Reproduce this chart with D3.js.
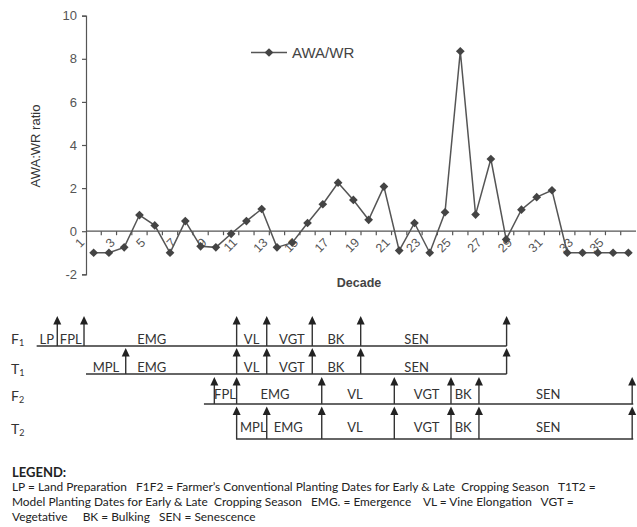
<!DOCTYPE html>
<html>
<head>
<meta charset="utf-8">
<script src="https://cdn.jsdelivr.net/npm/d3@7"></script>
<style>
  body { margin: 0; background: #fff; }
  svg { display: block; }
</style>
</head>
<body>
<div id="chart"></div>
<script>
// AWA/WR ratio per decade
const decades = d3.range(1, 37)
const ratio = [
  -1, -1, -0.75, 0.75, 0.27, -1, 0.47, -0.7, -0.75, -0.12,
  0.47, 1.03, -0.75, -0.53, 0.38, 1.25, 2.25, 1.45, 0.53, 2.07,
  -0.9, 0.38, -1, 0.88, 8.35, 0.77, 3.35, -0.38, 1.0, 1.58,
  1.9, -1, -1, -1, -1, -1
]
const yTicks = [-2, 0, 2, 4, 6, 8, 10]
const xLabels = d3.range(1, 36, 2)

// crop stage timeline (in decade units along the same axis)
const rowNames = [["F", "1"], ["T", "1"], ["F", "2"], ["T", "2"]]
const rowStart = [-3.23, 0, 7.72, 9.82]
const rowEnd = [27.53, 27.53, 35.82, 35.82]
const rowArrows = [
  [-1.88, -0.13, 9.86, 11.83, 14.81, 17.98, 27.53],
  [2.6, 9.86, 11.83, 14.81, 17.98, 27.53],
  [8.4, 9.86, 15.43, 20.18, 23.89, 25.72, 35.75],
  [9.86, 11.83, 15.43, 20.18, 23.89, 25.72, 35.75]
]
const rowStages = [
  ["LP", "FPL", "EMG", "VL", "VGT", "BK", "SEN"],
  ["MPL", "EMG", "VL", "VGT", "BK", "SEN"],
  ["FPL", "EMG", "VL", "VGT", "BK", "SEN"],
  ["MPL", "EMG", "VL", "VGT", "BK", "SEN"]
]
const rowStageAt = [
  [-2.57, -1.0, 4.3, 10.84, 13.48, 16.36, 21.64],
  [1.31, 4.3, 10.84, 13.48, 16.36, 21.64],
  [9.1, 12.37, 17.6, 22.3, 24.69, 30.25],
  [10.95, 13.24, 17.6, 22.3, 24.69, 30.25]
]

const legendLines = [
  "LP = Land Preparation   F1F2 = Farmer\u2019s Conventional Planting Dates for Early & Late  Cropping Season   T1T2 =",
  "Model Planting Dates for Early & Late  Cropping Season   EMG. = Emergence    VL = Vine Elongation   VGT =",
  "Vegetative     BK = Bulking   SEN = Senescence"
]

const width = 637
const height = 527
const plot = { left: 86, right: 636, top: 15.7, bottom: 274.3 }

const svg = d3.select("#chart")
  .append("svg")
    .attr("width", width)
    .attr("height", height)

const x = d3.scaleBand()
  .domain(decades)
  .range([plot.left, plot.right])
const bw = x.bandwidth()
const xc = d => x(d) + bw / 2

const y = d3.scaleLinear()
  .domain([-2, 10])
  .range([plot.bottom, plot.top])

const axisColor = "#555"
const font = "'Liberation Sans', Arial, sans-serif"

// y axis
const yAxis = svg.append("g")
  .attr("transform", `translate(${plot.left},0)`)
  .call(d3.axisLeft(y).tickValues(yTicks).tickSize(4).tickPadding(5).tickFormat(d => String(d)))
yAxis.select(".domain").attr("stroke", axisColor).attr("stroke-width", 1.2)
yAxis.selectAll(".tick line").attr("stroke", axisColor).attr("stroke-width", 1.2)
yAxis.selectAll(".tick text")
  .attr("fill", "#555")
  .style("font", `13px ${font}`)

// x axis at zero
const xAxis = svg.append("g")
  .attr("transform", `translate(0,${y(0)})`)
xAxis.append("line")
  .attr("x1", plot.left).attr("x2", plot.right)
  .attr("stroke", axisColor).attr("stroke-width", 1.2)
xAxis.selectAll(".tk")
  .data(decades.slice(1))
  .join("line")
    .attr("x1", d => x(d)).attr("x2", d => x(d))
    .attr("y1", 0).attr("y2", 4)
    .attr("stroke", axisColor).attr("stroke-width", 1.2)
xAxis.selectAll(".lbl")
  .data(xLabels)
  .join("text")
    .attr("transform", d => `translate(${x(d) - 4},${9}) rotate(-45)`)
    .attr("text-anchor", "end")
    .attr("dy", "0.35em")
    .attr("fill", "#555")
    .style("font", `12.5px ${font}`)
    .text(d => d)

// series
const line = d3.line()
  .x((d, i) => xc(decades[i]))
  .y(d => y(d))
svg.append("path")
  .datum(ratio)
  .attr("fill", "none")
  .attr("stroke", "#555")
  .attr("stroke-width", 1.5)
  .attr("d", line)

const diamond = d3.symbol(d3.symbolSquare, 38)
svg.selectAll(".pt")
  .data(ratio)
  .join("path")
    .attr("transform", (d, i) => `translate(${xc(decades[i])},${y(d)}) rotate(45)`)
    .attr("d", diamond)
    .attr("fill", "#444")

// series legend
const lg = svg.append("g").attr("transform", "translate(251,52.5)")
lg.append("line").attr("x1", 0).attr("x2", 36).attr("stroke", "#555").attr("stroke-width", 1.5)
lg.append("path").attr("transform", "translate(18,0) rotate(45)").attr("d", diamond).attr("fill", "#444")
lg.append("text")
  .attr("x", 41).attr("y", 5.5)
  .attr("fill", "#444")
  .style("font", `15px ${font}`)
  .text("AWA/WR")

// axis titles
svg.append("text")
  .attr("transform", `translate(40,146) rotate(-90)`)
  .attr("text-anchor", "middle")
  .attr("fill", "#333")
  .style("font", `13px ${font}`)
  .text("AWA:WR ratio")

svg.append("text")
  .attr("x", 359).attr("y", 287)
  .attr("text-anchor", "middle")
  .attr("fill", "#444")
  .style("font", `bold 12.5px ${font}`)
  .text("Decade")

// stage timeline
const t = d3.scaleLinear().domain([0, 36]).range([plot.left, plot.right])
const rowY = [346, 374, 404, 439]
const rowTop = [316, 348, 377, 406.5]
const labelY = [344, 372, 398.5, 432]
const nameY = [344, 374, 401, 434]
const ink = "#333"
const sans = "Lato, 'Open Sans', sans-serif"

const rows = svg.append("g")
rowNames.forEach((name, r) => {
  const g = rows.append("g")
  const nm = g.append("text")
    .attr("x", 11).attr("y", nameY[r])
    .attr("fill", ink)
    .style("font", `14px ${sans}`)
  nm.append("tspan").text(name[0])
  nm.append("tspan").attr("font-size", "9px").attr("dy", 2).text(name[1])

  g.append("line")
    .attr("x1", t(rowStart[r])).attr("x2", t(rowEnd[r]))
    .attr("y1", rowY[r]).attr("y2", rowY[r])
    .attr("stroke", ink).attr("stroke-width", 1.6)

  g.selectAll(".arrow")
    .data(rowArrows[r])
    .join("path")
      .attr("d", d => {
        const ax = t(d), top = rowTop[r]
        return `M${ax},${rowY[r]}V${top + 6}`
      })
      .attr("stroke", ink).attr("stroke-width", 1.4)
  g.selectAll(".head")
    .data(rowArrows[r])
    .join("path")
      .attr("d", d => {
        const ax = t(d), top = rowTop[r]
        return `M${ax},${top}L${ax + 4},${top + 8.5}L${ax - 4},${top + 8.5}Z`
      })
      .attr("fill", "#222")

  g.selectAll(".stage")
    .data(rowStages[r])
    .join("text")
      .attr("x", (d, i) => t(rowStageAt[r][i]))
      .attr("y", labelY[r])
      .attr("text-anchor", "middle")
      .attr("fill", ink)
      .style("font", `13px ${sans}`)
      .text(d => d)
})

// legend text
const leg = svg.append("g").attr("fill", "#222")
leg.append("text")
  .attr("x", 12).attr("y", 477)
  .style("font", `bold 13px ${sans}`)
  .text("LEGEND:")
leg.selectAll(".ll")
  .data(legendLines)
  .join("text")
    .attr("x", 12)
    .attr("y", (d, i) => 491 + i * 15)
    .style("font", `11.9px ${sans}`)
    .style("white-space", "pre")
    .attr("xml:space", "preserve")
    .text(d => d)
</script>
</body>
</html>
